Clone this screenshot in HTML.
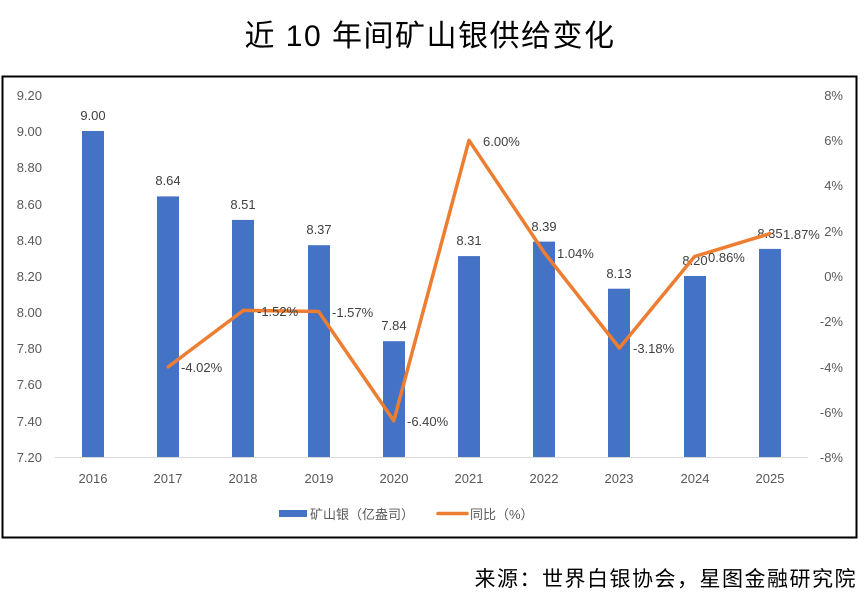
<!DOCTYPE html>
<html><head><meta charset="utf-8"><style>
body{margin:0;width:865px;height:600px;background:#fff;overflow:hidden}
svg{display:block}
text{font-family:"Liberation Sans","Noto Sans CJK SC",sans-serif}
</style></head><body>
<svg width="865" height="600" viewBox="0 0 865 600">
<text x="430" y="46" font-size="30" letter-spacing="1.5" text-anchor="middle" fill="#000">近 10 年间矿山银供给变化</text>
<rect x="2.5" y="76.5" width="854" height="461" fill="none" stroke="#000" stroke-width="2"/>
<g font-size="13" fill="#595959" text-anchor="end">
<text x="42" y="100">9.20</text><text x="42" y="136">9.00</text><text x="42" y="172">8.80</text>
<text x="42" y="209">8.60</text><text x="42" y="245">8.40</text><text x="42" y="281">8.20</text>
<text x="42" y="317">8.00</text><text x="42" y="353">7.80</text><text x="42" y="389">7.60</text>
<text x="42" y="426">7.40</text><text x="42" y="462">7.20</text>
<text x="843" y="100">8%</text><text x="843" y="145">6%</text><text x="843" y="190">4%</text>
<text x="843" y="236">2%</text><text x="843" y="281">0%</text><text x="843" y="326">-2%</text>
<text x="843" y="372">-4%</text><text x="843" y="417">-6%</text><text x="843" y="462">-8%</text>
</g>
<line x1="55" y1="457.5" x2="808" y2="457.5" stroke="#d9d9d9" stroke-width="1"/>
<g fill="#4472C4">
<rect x="82" y="131" width="22" height="326"/>
<rect x="157" y="196.4" width="22" height="260.6"/>
<rect x="232" y="219.9" width="22" height="237.1"/>
<rect x="308" y="245.2" width="22" height="211.8"/>
<rect x="383" y="341.2" width="22" height="115.8"/>
<rect x="458" y="256.1" width="22" height="200.9"/>
<rect x="533" y="241.6" width="22" height="215.4"/>
<rect x="608" y="288.7" width="22" height="168.3"/>
<rect x="684" y="276" width="22" height="181"/>
<rect x="759" y="248.9" width="22" height="208.1"/>
</g>
<g font-size="13" fill="#404040" text-anchor="middle">
<text x="93" y="120">9.00</text><text x="168" y="185">8.64</text><text x="243" y="209">8.51</text>
<text x="319" y="234">8.37</text><text x="394" y="330">7.84</text><text x="469" y="245">8.31</text>
<text x="544" y="231">8.39</text><text x="619" y="278">8.13</text><text x="695" y="265">8.20</text>
<text x="770" y="238">8.35</text>
</g>
<polyline fill="none" stroke="#ED7D31" stroke-width="3.5" stroke-linejoin="round" stroke-linecap="round"
points="168.2,366.9 243.4,310.4 318.6,311.5 393.8,420.8 469,140.3 544.2,252.5 619.4,348 694.6,256.5 769.8,233.7"/>
<g font-size="13" fill="#404040">
<text x="181" y="372">-4.02%</text><text x="257" y="316">-1.52%</text><text x="332" y="317">-1.57%</text>
<text x="407" y="426">-6.40%</text><text x="483" y="146">6.00%</text><text x="557" y="258">1.04%</text>
<text x="633" y="353">-3.18%</text><text x="708" y="262">0.86%</text><text x="783" y="239">1.87%</text>
</g>
<g font-size="13" fill="#595959" text-anchor="middle">
<text x="93" y="483">2016</text><text x="168" y="483">2017</text><text x="243" y="483">2018</text>
<text x="319" y="483">2019</text><text x="394" y="483">2020</text><text x="469" y="483">2021</text>
<text x="544" y="483">2022</text><text x="619" y="483">2023</text><text x="695" y="483">2024</text>
<text x="770" y="483">2025</text>
</g>
<rect x="279" y="510" width="28" height="7" fill="#4472C4"/>
<text x="310" y="519" font-size="13" fill="#595959">矿山银（亿盎司）</text>
<line x1="438" y1="513.5" x2="467" y2="513.5" stroke="#ED7D31" stroke-width="3.5" stroke-linecap="round"/>
<text x="470" y="519" font-size="13" fill="#595959">同比（%）</text>
<text x="857" y="586" font-size="21" letter-spacing="1.5" text-anchor="end" fill="#000">来源：世界白银协会，星图金融研究院</text>
</svg>
</body></html>
